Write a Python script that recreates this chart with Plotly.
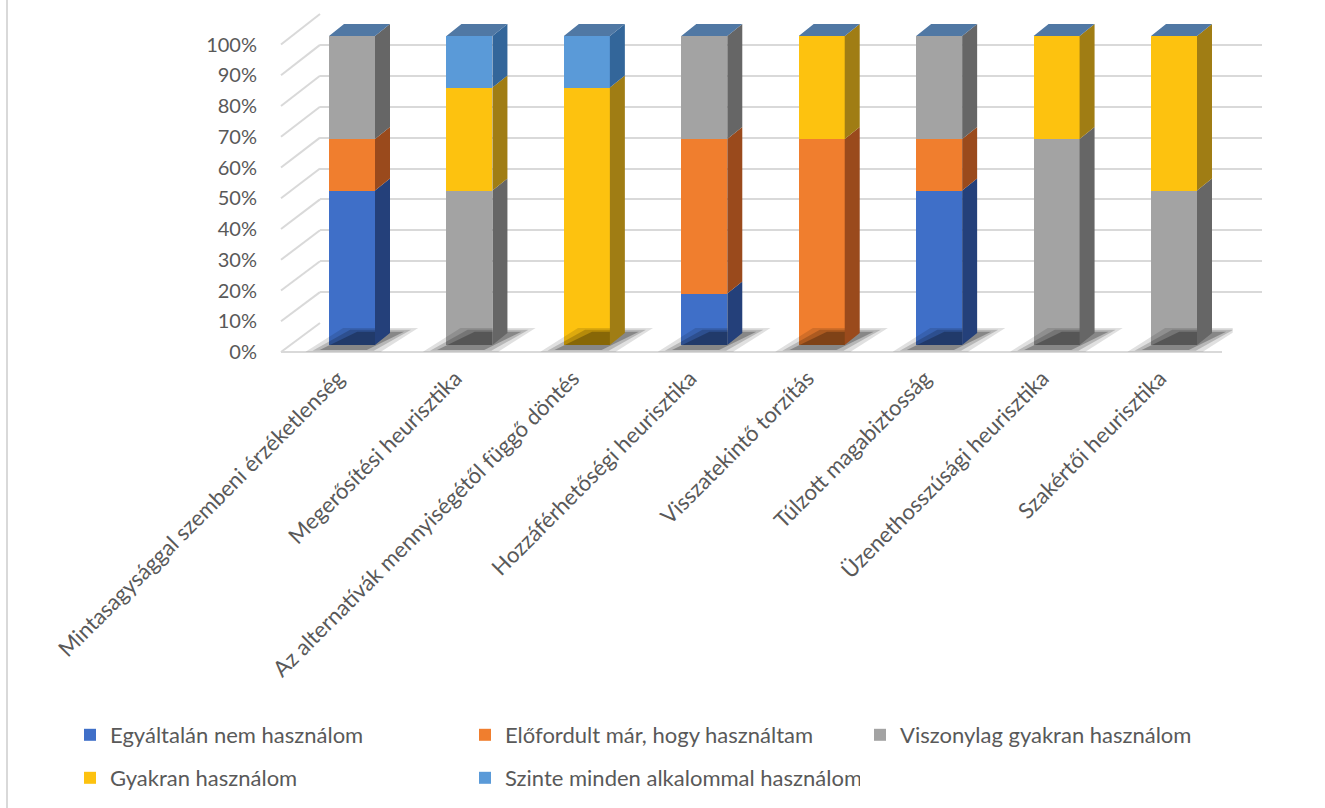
import plotly.graph_objects as go

categories = [
    "Mintasagysággal szembeni érzéketlenség",
    "Megerősítési heurisztika",
    "Az alternatívák mennyiségétől függő döntés",
    "Hozzáférhetőségi heurisztika",
    "Visszatekintő torzítás",
    "Túlzott magabiztosság",
    "Üzenethosszúsági heurisztika",
    "Szakértői heurisztika",
]
series_names = [
    "Egyáltalán nem használom",
    "Előfordult már, hogy használtam",
    "Viszonylag gyakran használom",
    "Gyakran használom",
    "Szinte minden alkalommal használom",
]
s_egyaltalan = [3, 0, 0, 1, 0, 3, 0, 0]
s_elofordult = [1, 0, 0, 3, 4, 1, 0, 0]
s_viszonylag = [2, 3, 0, 2, 0, 2, 4, 3]
s_gyakran = [0, 2, 5, 0, 2, 0, 2, 3]
s_szinte = [0, 1, 1, 0, 0, 0, 0, 0]
series_values = [s_egyaltalan, s_elofordult, s_viszonylag, s_gyakran, s_szinte]
y_ticks = list(range(0, 101, 10))
y_ticktext = [f"{v}%" for v in y_ticks]

front_colors = ["#3f6fc8", "#f07e2e", "#a3a3a3", "#fdc20f", "#5a9ad8"]
side_colors = ["#24407a", "#9a4a1c", "#666666", "#a07d14", "#33669a"]
top_color = "#5078a4"
text_color = "#595959"
FONT = "Lato"

W, H = 1325, 808
def px_x(p): return p / W
def px_y(p): return 1 - p / H

# geometry (pixels)
X0_PX, STEP_PX = 352.0, 117.43        # centre of first bar, category pitch
Y0_PX, PPU = 345.0, 3.09              # bar base pixel, pixels per percent
YMIN, YMAX = -3.0, 110.0
bar_w = 46 / STEP_PX
dx = 15 / STEP_PX
dy = 12 / PPU
h = bar_w / 2

totals = [sum(v[i] for v in series_values) for i in range(len(categories))]
pcts = [[v[i] / totals[i] * 100 for i in range(len(categories))] for v in series_values]
xs = list(range(len(categories)))

fig = go.Figure()

# back wall gridlines (subplot xy)
fig.add_trace(go.Scatter(x=[0], y=[0], mode="markers", marker=dict(opacity=0),
                         hoverinfo="skip", showlegend=False, xaxis="x", yaxis="y"))

# shadows
for layer, op in [(0, 0.12), (1, 0.18), (2, 0.26)]:
    sx, sy = [], []
    for c in xs:
        s = layer * 0.06
        sx += [c - h - 0.2 + s, c + h + 0.05 - s, c + h + dx + 0.24 - s, c - h + 0.12 + s, c - h - 0.2 + s, None]
        sy += [-2.2 + 0.3 * layer, -2.2 + 0.3 * layer, 5.5 - 0.6 * layer, 5.5 - 0.6 * layer, -2.2 + 0.3 * layer, None]
    fig.add_trace(go.Scatter(x=sx, y=sy, mode="lines", fill="toself", line=dict(width=0),
                             fillcolor=f"rgba(0,0,0,{op})", hoverinfo="skip", showlegend=False,
                             xaxis="x2", yaxis="y2"))

# front faces
for i, (name, p, col) in enumerate(zip(series_names, pcts, front_colors)):
    fig.add_trace(go.Bar(x=xs, y=p, name=name, width=bar_w, marker=dict(color=col, line=dict(width=0)),
                         xaxis="x2", yaxis="y2", legend="legend" if i < 3 else "legend2"))

# side faces
cum = [0.0] * len(categories)
for p, col in zip(pcts, side_colors):
    sx, sy = [], []
    for c in xs:
        b0, b1 = cum[c], cum[c] + p[c]
        if p[c] > 0:
            sx += [c + h, c + h + dx, c + h + dx, c + h, c + h, None]
            sy += [b0, b0 + dy, b1 + dy, b1, b0, None]
        cum[c] = b1
    fig.add_trace(go.Scatter(x=sx, y=sy, mode="lines", fill="toself", line=dict(width=0),
                             fillcolor=col, hoverinfo="skip", showlegend=False, xaxis="x2", yaxis="y2"))

# top faces
tx, ty = [], []
for c in xs:
    t = cum[c]
    tx += [c - h, c + h, c + h + dx, c - h + dx, c - h, None]
    ty += [t, t, t + dy, t + dy, t, None]
fig.add_trace(go.Scatter(x=tx, y=ty, mode="lines", fill="toself", line=dict(width=0),
                         fillcolor=top_color, hoverinfo="skip", showlegend=False, xaxis="x2", yaxis="y2"))

# tick-label axis anchor trace
fig.add_trace(go.Scatter(x=[0], y=[0], mode="markers", marker=dict(opacity=0),
                         hoverinfo="skip", showlegend=False, xaxis="x2", yaxis="y3"))

x_lo, x_hi = -0.5, 7.5
dom_x2 = [px_x(X0_PX + x_lo * STEP_PX), px_x(X0_PX + x_hi * STEP_PX)]
dom_y2 = [px_y(Y0_PX - YMIN * PPU), px_y(Y0_PX - YMAX * PPU)]

shapes = []
for k in range(11):
    fy = 352 - 30.75 * k
    by = 323 - 30.9 * k
    shapes.append(dict(type="line", xref="paper", yref="paper", x0=px_x(281), y0=px_y(fy),
                       x1=px_x(320), y1=px_y(by), line=dict(color="#d9d9d9", width=2), layer="below"))
shapes.append(dict(type="line", xref="paper", yref="paper", x0=px_x(281), y0=px_y(352),
                   x1=px_x(1222), y1=px_y(352), line=dict(color="#d9d9d9", width=2), layer="below"))
shapes.append(dict(type="line", xref="paper", yref="paper", x0=px_x(7), y0=0, x1=px_x(7), y1=1,
                   line=dict(color="#d9d9d9", width=2), layer="below"))

legend_common = dict(orientation="h", xanchor="left", yanchor="top", entrywidth=350,
                     entrywidthmode="pixels", font=dict(family=FONT, size=22, color=text_color),
                     traceorder="normal", bgcolor="rgba(0,0,0,0)")

fig.update_layout(
    width=W, height=H, autosize=False,
    margin=dict(l=0, r=0, t=0, b=0, autoexpand=False),
    paper_bgcolor="white", plot_bgcolor="rgba(0,0,0,0)",
    barmode="stack",
    font=dict(family=FONT, size=20, color=text_color),
    shapes=shapes,
    xaxis=dict(domain=[px_x(320), px_x(1262)], range=[0, 1], visible=False, anchor="y", automargin=False),
    yaxis=dict(domain=[px_y(323), px_y(14)], range=[0, 100], tickvals=y_ticks, showgrid=True,
               gridcolor="#d9d9d9", gridwidth=2, showticklabels=False, ticks="", zeroline=False,
               showline=False, anchor="x", automargin=False),
    xaxis2=dict(domain=dom_x2, range=[x_lo, x_hi], tickvals=xs, ticktext=categories, tickangle=-45,
                tickfont=dict(family=FONT, size=22, color=text_color), showgrid=False, zeroline=False,
                showline=False, ticks="", anchor="y2", automargin=False,
                ticklabelshift=-14, ticklabelstandoff=6),
    yaxis2=dict(domain=dom_y2, range=[YMIN, YMAX], visible=False, anchor="x2", automargin=False),
    yaxis3=dict(domain=[px_y(352), px_y(44.5)], range=[0, 100], tickmode="array", tickvals=y_ticks,
                ticktext=y_ticktext, anchor="free", position=px_x(257), showgrid=False, zeroline=False,
                showline=False, ticks="", automargin=False,
                tickfont=dict(family=FONT, size=20, color=text_color)),
    legend=dict(x=px_x(70), y=px_y(714), **legend_common),
    legend2=dict(x=px_x(70), y=px_y(757), **legend_common),
    hovermode=False,
)

fig.write_html("out.html")
